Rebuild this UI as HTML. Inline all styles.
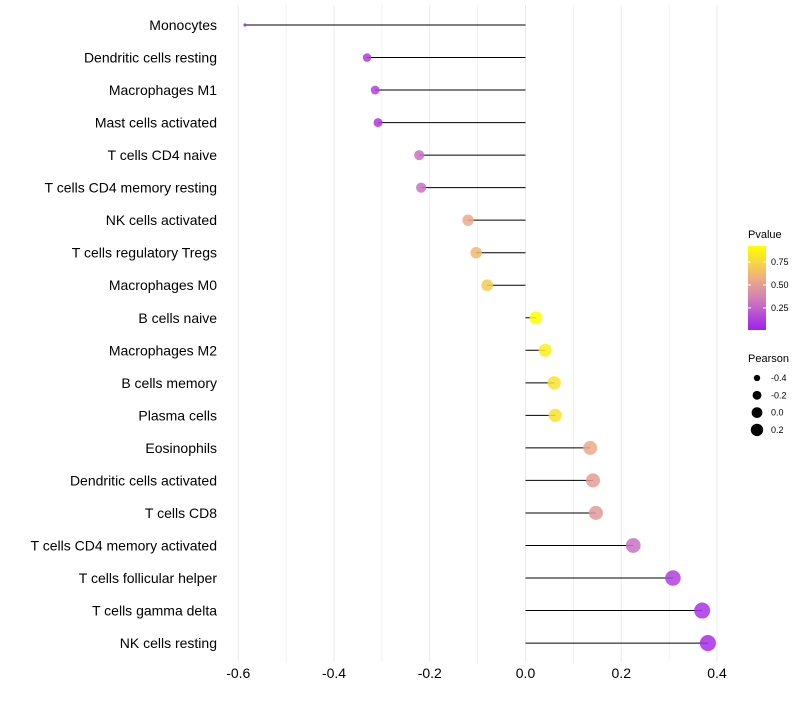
<!DOCTYPE html>
<html><head><meta charset="utf-8"><style>
body{margin:0;background:#fff;font-family:"Liberation Sans",sans-serif;}
svg text{font-family:"Liberation Sans",sans-serif;}
</style></head><body>
<svg id="chart" width="800" height="700"></svg>
<script>
const categories=["Monocytes","Dendritic cells resting","Macrophages M1","Mast cells activated","T cells CD4 naive","T cells CD4 memory resting","NK cells activated","T cells regulatory  Tregs ","Macrophages M0","B cells naive","Macrophages M2","B cells memory","Plasma cells","Eosinophils","Dendritic cells activated","T cells CD8","T cells CD4 memory activated","T cells follicular helper","T cells gamma delta","NK cells resting"];
const pearson=[-0.586,-0.331,-0.314,-0.308,-0.222,-0.218,-0.120,-0.103,-0.080,0.022,0.041,0.060,0.062,0.135,0.141,0.147,0.225,0.308,0.369,0.381];
const pvalues=[0.03,0.12,0.13,0.1,0.3,0.3,0.55,0.62,0.7,0.92,0.85,0.8,0.8,0.55,0.5,0.48,0.3,0.12,0.08,0.06];
const xTicks=[-0.6,-0.4,-0.2,0.0,0.2,0.4];
const xTickLabels=["-0.6","-0.4","-0.2","0.0","0.2","0.4"];
const legendP=[0.75,0.50,0.25];
const legendR=[-0.4,-0.2,0.0,0.2];

const NS="http://www.w3.org/2000/svg";
const svg=document.getElementById('chart');
function mk(t,a,p){const e=document.createElementNS(NS,t);for(const k in a)e.setAttribute(k,a[k]);(p||svg).appendChild(e);return e;}
const x=v=>525.5+v*478.75;
const y=i=>25+i*32.53;
const rad=v=>Math.sqrt(Math.max(2.5,40+65*v));
const stops=[[0,[160,32,240]],[0.35,[204,122,189]],[0.6,[237,170,136]],[1,[255,255,0]]];
function col(p){const t=Math.min(1,Math.max(0,(p-0.01)/0.91));for(let i=1;i<stops.length;i++){if(t<=stops[i][0]){const a=stops[i-1],b=stops[i];const f=(t-a[0])/(b[0]-a[0]);return 'rgb('+a[1].map((c,j)=>Math.round(c+(b[1][j]-c)*f)).join(',')+')';}}return 'rgb(255,255,0)';}

for(let v=-0.6;v<=0.41;v+=0.1){const g=mk('line',{x1:x(v),x2:x(v),y1:5,y2:662,stroke:'#ebebeb','stroke-width':Math.abs(Math.round(v*10)%2)===0?1:0.6});

}
xTicks.forEach((v,i)=>{const t=mk('text',{x:x(v),y:678,'text-anchor':'middle','font-size':14,fill:'#000'});t.textContent=xTickLabels[i];

});
categories.forEach((c,i)=>{
const t=mk('text',{x:217,y:y(i)+5,'text-anchor':'end','font-size':14,fill:'#000'});t.textContent=c;


const l=mk('line',{x1:x(0),x2:x(pearson[i]),y1:y(i),y2:y(i),stroke:'#000','stroke-width':1});


const d=mk('circle',{cx:x(pearson[i]),cy:y(i),r:rad(pearson[i]),fill:col(pvalues[i]),'fill-opacity':0.85});


});
const lt=mk('text',{x:748,y:238,'font-size':11});lt.textContent='Pvalue';


const defs=mk('defs',{});const gr=mk('linearGradient',{id:'pg',x1:0,y1:1,x2:0,y2:0},defs);
[0,0.2,0.4,0.6,0.8,1].forEach(f=>mk('stop',{offset:f,'stop-color':col(0.01+f*0.91)},gr));
const bar=mk('rect',{x:748,y:246,width:18,height:84,fill:'url(#pg)'});


legendP.forEach(p=>{const yy=330-(p-0.01)*92;mk('line',{x1:748,x2:751,y1:yy,y2:yy,stroke:'#fff'});mk('line',{x1:763,x2:766,y1:yy,y2:yy,stroke:'#fff'});
const t=mk('text',{x:771,y:yy+3,'font-size':9});t.textContent=p.toFixed(2);

});
const pt=mk('text',{x:748,y:362,'font-size':11});pt.textContent='Pearson';


legendR.forEach((v,i)=>{const yy=378+i*17.3;const c=mk('circle',{cx:757,cy:yy,r:rad(v)*0.85,fill:'#000'});


const t=mk('text',{x:771,y:yy+3,'font-size':9});t.textContent=v.toFixed(1);

});
</script>
</body></html>
